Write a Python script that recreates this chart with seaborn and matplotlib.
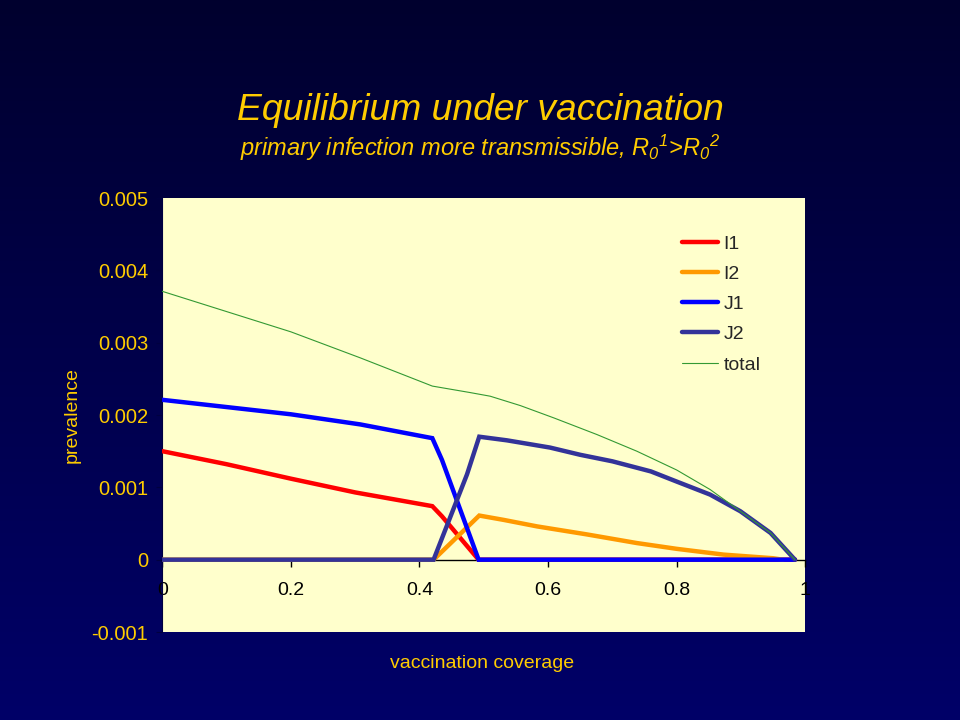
import numpy as np
import matplotlib
matplotlib.use("Agg")
import matplotlib.pyplot as plt
import seaborn as sns
from matplotlib.ticker import FuncFormatter

# =========================
# DATA
# =========================
x_i1 = [0.0, 0.1, 0.2, 0.3, 0.42, 0.435, 0.492, 0.984]
i1 = [0.00150, 0.00132, 0.00112, 0.00093, 0.00074, 0.00060, 0.0, 0.0]

x_i2 = [0.0, 0.422, 0.493, 0.531, 0.583, 0.66, 0.738, 0.80, 0.873, 0.95, 0.965]
i2 = [0.0, 0.0, 0.00061, 0.00055, 0.00046, 0.00035, 0.00023, 0.00015,
      0.00007, 0.00002, 0.0]

x_j1 = [0.0, 0.1, 0.2, 0.308, 0.42, 0.435, 0.492, 0.984]
j1 = [0.00221, 0.00211, 0.00201, 0.00187, 0.00168, 0.00138, 0.0, 0.0]

x_j2 = [0.0, 0.422, 0.474, 0.493, 0.536, 0.603, 0.65, 0.70, 0.76, 0.80,
        0.852, 0.899, 0.946, 0.984]
j2 = [0.0, 0.0, 0.00118, 0.00170, 0.00165, 0.00155, 0.00145, 0.00136,
      0.00122, 0.00108, 0.00090, 0.00067, 0.00037, 0.0]

x_tot = [0.0, 0.1, 0.2, 0.308, 0.42, 0.479, 0.51, 0.557, 0.609, 0.676,
         0.738, 0.80, 0.852, 0.899, 0.946, 0.984]
total = [0.00371, 0.00343, 0.00315, 0.00279, 0.00240, 0.00231, 0.00226,
         0.00213, 0.00196, 0.00173, 0.00150, 0.00124, 0.00097, 0.00067,
         0.00037, 0.0]

x_ticks = [0, 0.2, 0.4, 0.6, 0.8, 1]
y_ticks = [-0.001, 0, 0.001, 0.002, 0.003, 0.004, 0.005]

YELLOW = "#FFCC00"

# =========================
# FIGURE
# =========================
sns.set_style("white")
plt.rcParams["font.family"] = ["Liberation Sans", "DejaVu Sans"]
plt.rcParams["mathtext.fontset"] = "custom"
plt.rcParams["mathtext.rm"] = "Liberation Sans:italic"
plt.rcParams["mathtext.it"] = "Liberation Sans:italic"

fig = plt.figure(figsize=(9.6, 7.2), dpi=100)

# gradient background
bg = fig.add_axes([0, 0, 1, 1], zorder=-10)
grad = np.linspace(0, 1, 256).reshape(-1, 1)
top = np.array([0, 0, 46]) / 255
bot = np.array([0, 0, 104]) / 255
img = top + grad[..., None] * (bot - top)
bg.imshow(img, aspect="auto", extent=[0, 1, 0, 1])
bg.axis("off")

ax = fig.add_axes([0.169, 0.1222, 0.6698, 0.6028])
ax.set_facecolor("#FFFFCC")

series = [
    (x_i1, i1, "I1", "#FF0000", 3.2),
    (x_i2, i2, "I2", "#FF9900", 3.2),
    (x_j1, j1, "J1", "#0000FF", 3.2),
    (x_j2, j2, "J2", "#333399", 3.2),
    (x_tot, total, "total", "#339933", 0.8),
]
for xs, ys, name, col, lw in series:
    sns.lineplot(x=xs, y=ys, ax=ax, color=col, lw=lw, label=name, zorder=3,
                 solid_joinstyle="miter")

ax.set_xlim(0, 1)
ax.set_ylim(-0.001, 0.005)
ax.set_xticks(x_ticks)
ax.set_yticks(y_ticks)
fmt = FuncFormatter(lambda v, p: "%g" % round(v, 6))
ax.xaxis.set_major_formatter(fmt)
ax.yaxis.set_major_formatter(fmt)

ax.spines["bottom"].set_position(("data", 0))
ax.spines["bottom"].set_color("black")
ax.spines["bottom"].set_linewidth(1.0)
ax.spines["top"].set_visible(False)
ax.spines["right"].set_visible(False)
ax.spines["left"].set_color("#000040")

ax.tick_params(axis="x", direction="out", length=5, width=1, color="black",
               labelcolor="black", labelsize=14, pad=11, bottom=True)
ax.tick_params(axis="y", direction="out", length=4, color="#000040",
               labelcolor=YELLOW, labelsize=14.5, pad=6, left=True)

leg = ax.legend(loc="upper left", frameon=False, fontsize=14,
                handlelength=1.85, labelspacing=0.65, handletextpad=0.25,
                borderpad=0, borderaxespad=0,
                bbox_to_anchor=(0.809, 0.915))

fig.text(0.5, 0.847, "Equilibrium under vaccination", color=YELLOW,
         fontsize=26.8, style="italic", ha="center", va="center")
fig.text(0.5, 0.795, r"primary infection more transmissible, $R_0$$^1$>$R_0$$^2$",
         color=YELLOW, fontsize=17, style="italic", ha="center", va="center")
fig.text(0.075, 0.424, "prevalence", color=YELLOW, fontsize=14,
         rotation=90, ha="center", va="center")
fig.text(0.502, 0.079, "vaccination coverage", color=YELLOW, fontsize=14,
         ha="center", va="center")

fig.savefig("out.png", dpi=100)
